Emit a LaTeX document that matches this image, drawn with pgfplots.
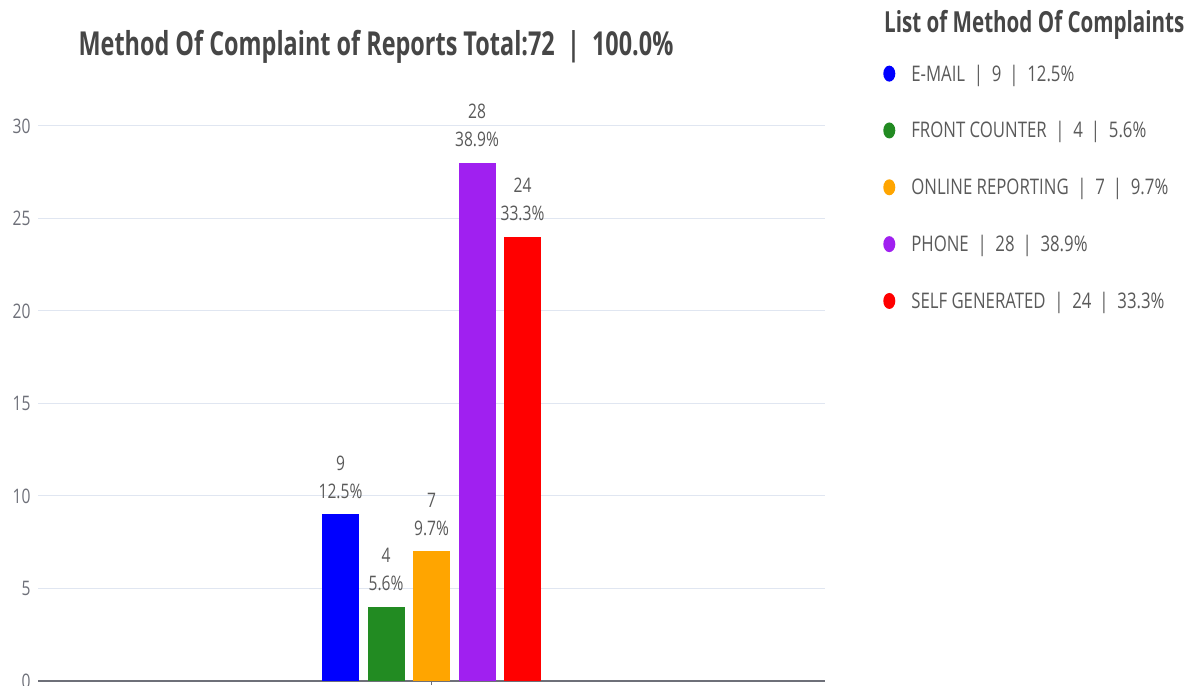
\documentclass[border=0pt]{standalone}
\usepackage{pgfplots}
\pgfplotsset{compat=1.18}
\usepackage{fontspec}
\setmainfont{Open Sans}[FakeStretch=0.78, BoldFeatures={FakeStretch=0.71}]
\definecolor{txt}{HTML}{5A5A5A}
\definecolor{ttl}{HTML}{464646}
\definecolor{tick}{HTML}{6E7079}
\definecolor{gridc}{HTML}{E0E6F1}
\definecolor{axc}{HTML}{6E7079}
\definecolor{ceblue}{HTML}{0000FF}
\definecolor{cegreen}{HTML}{228B22}
\definecolor{ceorange}{HTML}{FFA500}
\definecolor{cepurple}{HTML}{A020F0}
\definecolor{cered}{HTML}{FF0000}
\begin{document}
\begin{tikzpicture}[x=1pt,y=1pt]
\path[use as bounding box] (0pt,0pt) rectangle (1201pt,685pt);
\begin{axis}[
  at={(431.5pt,4pt)}, anchor=origin,
  scale only axis, width=787pt, height=555pt,
  xmin=-8.648, xmax=8.648, ymin=0, ymax=30,
  ybar, bar width=37pt, bar shift=0pt,
  ytick={0,5,...,30},
  xtick={0}, xticklabels={},
  ymajorgrids, grid style={color=gridc, line width=1pt},
  separate axis lines,
  axis x line*=bottom, axis y line*=left,
  y axis line style={draw=none},
  x axis line style={color=axc, line width=1.2pt, -},
  ytick style={draw=none},
  xtick style={draw=axc, line width=1pt},
  tick align=outside, major tick length=4pt,
  /pgf/number format/assume math mode=true,
  yticklabel style={font=\fontsize{20}{24}\selectfont, text=tick, xshift=0pt},
  point meta=explicit symbolic,
  nodes near coords,
  every node near coord/.append style={align=center, font=\fontsize{20}{28}\selectfont, text=txt, inner sep=2pt, yshift=14pt},
  legend image code/.code={\fill[#1,draw=none] (0pt,0pt) ellipse [x radius=6pt, y radius=8pt];},
  legend style={at={(1.07,1.118)}, anchor=north west, draw=none, fill=none,
    font=\fontsize{21.5}{26}\selectfont, text=txt, row sep=35pt,
    /tikz/every odd column/.append style={column sep=14pt}},
  legend cell align=left,
]
\addplot[fill=ceblue, draw=none] coordinates {(-2,9) [{9\\12.5\%}]};
\addlegendentry{E-MAIL \ | \ 9 \,| \ 12.5\%}
\addplot[fill=cegreen, draw=none] coordinates {(-1,4) [{4\\5.6\%}]};
\addlegendentry{FRONT COUNTER \ | \ 4 \,| \ 5.6\%}
\addplot[fill=ceorange, draw=none] coordinates {(0,7) [{7\\9.7\%}]};
\addlegendentry{ONLINE REPORTING \ | \ 7 \,| \ 9.7\%}
\addplot[fill=cepurple, draw=none] coordinates {(1,28) [{28\\38.9\%}]};
\addlegendentry{PHONE \ | \ 28 \,| \ 38.9\%}
\addplot[fill=cered, draw=none] coordinates {(2,24) [{24\\33.3\%}]};
\addlegendentry{SELF GENERATED \ | \ 24 \,| \ 33.3\%}
\end{axis}
\node[font=\bfseries\fontsize{33}{38}\selectfont, text=ttl] at (376pt,638pt) {Method Of Complaint of Reports Total:72 \ | \ 100.0\%};
\node[font=\bfseries\fontsize{29}{34}\selectfont, text=ttl, anchor=west, inner sep=0pt] at (884pt,660pt) {List of Method Of Complaints};
\end{tikzpicture}
\end{document}
